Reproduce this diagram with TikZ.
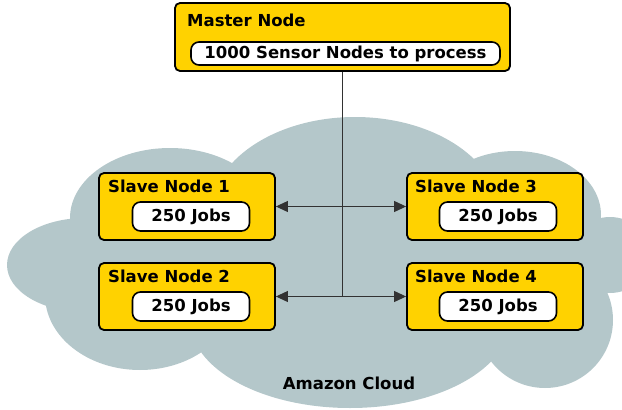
\documentclass[tikz,border=0pt]{standalone}
\usepackage{fontspec}
\setmainfont{DejaVu Sans}
\usetikzlibrary{arrows.meta}
\definecolor{gold}{RGB}{255,210,0}
\definecolor{cloudc}{RGB}{180,199,202}
\definecolor{linec}{RGB}{50,50,50}
\tikzset{
  outerbox/.style={draw=black, line width=1.8pt, fill=gold, rounded corners=5pt, inner sep=0pt},
  innerbox/.style={draw=black, line width=1.6pt, fill=white, rounded corners=8pt, inner sep=0pt,
    font=\fontsize{16.5}{19}\selectfont\bfseries},
  titletext/.style={anchor=base west, inner sep=0pt, font=\fontsize{16.5}{19}\selectfont\bfseries},
  conn/.style={draw=linec, line width=1pt},
  link/.style={conn, {Triangle[length=12pt,width=11pt]}-{Triangle[length=12pt,width=11pt]}}
}
\begin{document}
\begin{tikzpicture}[x=1pt,y=-1pt]
\useasboundingbox (0,0) rectangle (622,410);
% cloud
\begin{scope}
\clip (0,0) rectangle (622,410);
\fill[cloudc]
  (355,215) ellipse [x radius=145, y radius=98]
  (170,218) ellipse [x radius=100, y radius=70]
  (515,215) ellipse [x radius=86, y radius=64]
  (610,255) ellipse [x radius=40, y radius=38]
  (545,320) ellipse [x radius=68, y radius=68]
  (350,320) ellipse [x radius=160, y radius=88]
  (140,295) ellipse [x radius=95, y radius=75]
  (85,265) ellipse [x radius=78, y radius=47]
  (330,265) ellipse [x radius=240, y radius=95];
\end{scope}
% master
\node[outerbox, minimum width=335pt, minimum height=68pt] (master) at (342.5,37) {};
\node[titletext] (mtitle) at (187,26.5) {Master Node};
\node[innerbox, minimum width=309pt, minimum height=23pt] (minner) at (345.5,53.5) {1000 Sensor Nodes to process};
% slaves
\node[outerbox, minimum width=176pt, minimum height=67pt] (s1) at (187,206.5) {};
\node[titletext] (t1) at (108,192) {Slave Node 1};
\node[innerbox, minimum width=117pt, minimum height=29pt] (i1) at (191,216.5) {250 Jobs};
\node[outerbox, minimum width=176pt, minimum height=67pt] (s2) at (187,296.5) {};
\node[titletext] (t2) at (108,282) {Slave Node 2};
\node[innerbox, minimum width=117pt, minimum height=29pt] (i2) at (191,306.5) {250 Jobs};
\node[outerbox, minimum width=176pt, minimum height=67pt] (s3) at (495,206.5) {};
\node[titletext] (t3) at (415,192) {Slave Node 3};
\node[innerbox, minimum width=117pt, minimum height=29pt] (i3) at (498,216.5) {250 Jobs};
\node[outerbox, minimum width=176pt, minimum height=67pt] (s4) at (495,296.5) {};
\node[titletext] (t4) at (415,282) {Slave Node 4};
\node[innerbox, minimum width=117pt, minimum height=29pt] (i4) at (498,306.5) {250 Jobs};
% connectors
\coordinate (j2) at (master.south |- s2.east);
\draw[conn] (master.south) -- (j2);
\draw[link] (s1.east) -- (s3.west);
\draw[link] (s2.east) -- (s4.west);
% label
\node[font=\fontsize{16.5}{19}\selectfont\bfseries, inner sep=0pt] (cloudlabel) at (349,383) {Amazon Cloud};
\end{tikzpicture}
\end{document}
